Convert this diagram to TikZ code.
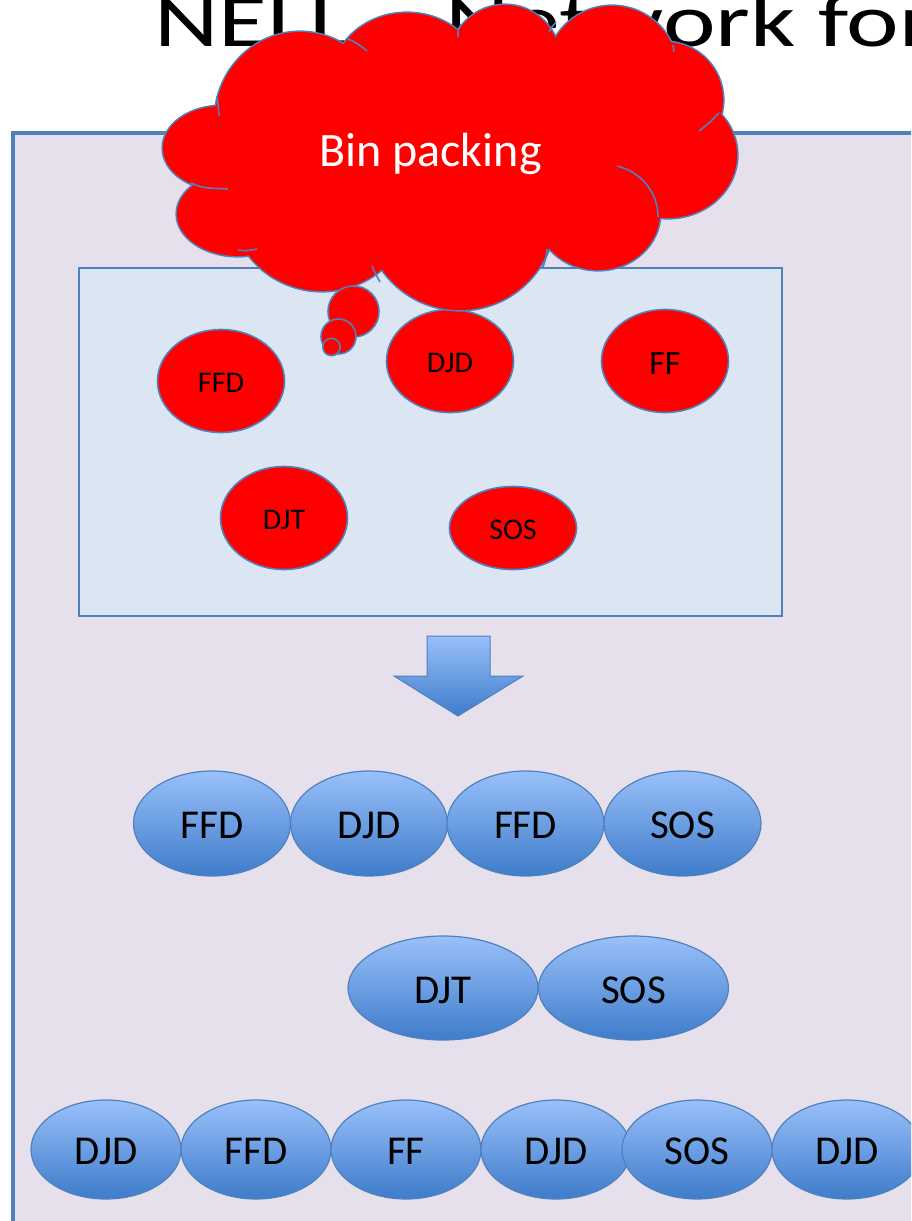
\documentclass[tikz,border=0pt]{standalone}
\usepackage{fontspec}
\setmainfont{Carlito}
\usetikzlibrary{shapes.geometric}

\definecolor{lineblue}{RGB}{79,129,189}
\definecolor{lavender}{RGB}{229,224,236}
\definecolor{panelblue}{RGB}{220,230,242}
\definecolor{gradtop}{RGB}{153,192,250}
\definecolor{gradbot}{RGB}{62,124,202}

\tikzset{
  redalg/.style={ellipse, draw=lineblue, line width=1.6, fill=red, inner sep=0,
    minimum width=127, minimum height=103, text height=23.5pt, text depth=0pt,
    font=\fontsize{30}{30}\selectfont},
  bluealg/.style={ellipse, draw=lineblue, line width=1.2, top color=gradtop,
    bottom color=gradbot, inner sep=0, text height=30.5pt, text depth=0pt,
    font=\fontsize{41}{41}\selectfont},
  rowone/.style={bluealg, minimum width=157, minimum height=105},
  rowtwo/.style={bluealg, minimum width=190, minimum height=104},
  rowthree/.style={bluealg, minimum width=150, minimum height=99},
  cloudline/.style={draw=lineblue, line width=1.6},
}

\begin{document}
\begin{tikzpicture}[x=1pt, y=-1pt]
\useasboundingbox (0,0) rectangle (911,1221);
\clip (0,0) rectangle (911,1221);

% slide title, partly hidden by the cloud
\node[anchor=base west, inner sep=0] (title) at (154,46)
  {\scalebox{1.33}[1]{\fontsize{75}{75}\selectfont NELL – Network for}};

% outer frame
\draw[line width=4, draw=lineblue, fill=lavender] (13,133) rectangle (940,1250);

% panel holding the candidate algorithms
\node[draw=lineblue, fill=panelblue, line width=1.3, inner sep=0,
      minimum width=703, minimum height=348] (panel) at (430.5,442) {};

\node[redalg] (ffd) at (221,381) {FFD};
\node[redalg] (djd) at (450,361) {DJD};
\node[redalg, text height=26pt, font=\fontsize{34}{34}\selectfont] (ff) at (665,361) {FF};
\node[redalg] (djt) at (284,518) {DJT};
\node[redalg, minimum height=83] (sos) at (513,528) {SOS};

% thought cloud: outlined lobes, then filled again to hide inner edges
\def\lobes{222/148/59/42, 238/214/61/42, 322/205/90/86, 460/215/95/95,
  598/213/62/57, 668/155/69/63, 665/100/58/58, 612/72/66/66,
  505/60/55/55, 407/80/75/67, 300/120/85/88}
\foreach \cx/\cy/\rx/\ry in \lobes
  \draw[draw=lineblue, line width=3.2, fill=red] (\cx,\cy) ellipse [x radius=\rx, y radius=\ry];
\foreach \cx/\cy/\rx/\ry in \lobes
  \fill[red] (\cx,\cy) ellipse [x radius=\rx, y radius=\ry];
\fill[red] (450,160) ellipse [x radius=200, y radius=100];

% inner creases of the cloud
\draw[cloudline] (217,96) .. controls (218,103) .. (219,116);
\draw[cloudline] (191,183) .. controls (203,188) .. (228,189);
\draw[cloudline] (238,250) .. controls (246,251) .. (257,249);
\draw[cloudline] (372,266) .. controls (375,273) .. (380,282);
\draw[cloudline] (348,39) .. controls (357,43) .. (367,51);
\draw[cloudline] (458,37) .. controls (458,30) .. (461,24);
\draw[cloudline] (549,32) .. controls (551,28) .. (556,22);
\draw[cloudline] (673,45) .. controls (674,48) .. (674,52);
\draw[cloudline] (699,131) .. controls (708,124) .. (719,113);
\draw[cloudline] (617,166) .. controls (641,172) and (658,192) .. (658,217);
\draw[cloudline] (547,249) .. controls (546,258) .. (543,267);

\node[anchor=base, inner sep=0, text=white, font=\fontsize{48}{48}\selectfont]
  (bin) at (430.5,166) {Bin packing};

% thought bubbles
\draw[draw=lineblue, line width=1.6, fill=red] (353.5,311.5) circle [radius=25.5];
\draw[draw=lineblue, line width=1.6, fill=red] (338.5,336.5) circle [radius=17.5];
\draw[draw=lineblue, line width=1.6, fill=red] (331.5,347) circle [radius=8.7];

% block arrow
\shadedraw[top color=gradtop, bottom color=gradbot, draw=lineblue, line width=1]
  (427,636) -- (490,636) -- (490,676) -- (523,676) -- (458,716)
  -- (394,676) -- (427,676) -- cycle;

% resulting sequences
\node[rowone] (a1) at (212,823.5) {FFD};
\node[rowone] (a2) at (369,823.5) {DJD};
\node[rowone] (a3) at (525.5,823.5) {FFD};
\node[rowone] (a4) at (682.5,823.5) {SOS};

\node[rowtwo] (b1) at (443,988) {DJT};
\node[rowtwo] (b2) at (633.5,988) {SOS};

\node[rowthree] (c1) at (106,1149.5) {DJD};
\node[rowthree] (c2) at (256,1149.5) {FFD};
\node[rowthree] (c3) at (406,1149.5) {FF};
\node[rowthree] (c4) at (556,1149.5) {DJD};
\node[rowthree] (c5) at (697,1149.5) {SOS};
\node[rowthree] (c6) at (847,1149.5) {DJD};
\end{tikzpicture}
\end{document}
